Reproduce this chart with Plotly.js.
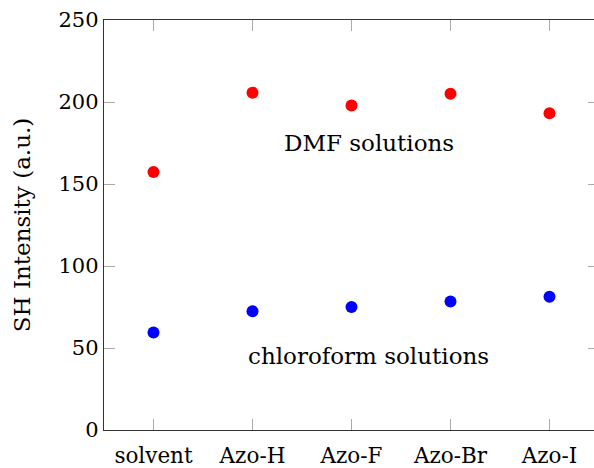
<!DOCTYPE html>
<html><head><meta charset="utf-8">
<script src="https://cdn.plot.ly/plotly-3.0.1.min.js"></script>
<style>html,body{margin:0;padding:0;background:#fff;overflow:hidden}#c{width:599px;height:468px}</style>
</head><body><div id="c"></div>
<script>
const categories = ["solvent", "Azo-H", "Azo-F", "Azo-Br", "Azo-I"];
const dmfValues = [157.3, 205.7, 197.8, 205.1, 193.1];
const chloroformValues = [59.5, 72.4, 75.0, 78.3, 81.3];
const yTicks = [0, 50, 100, 150, 200, 250];

const fam = "DejaVu Serif, serif";
const tickFont = {family: fam, size: 21, color: "#000"};
const xFont = {family: fam, size: 21.5, color: "#000"};
const titleFont = {family: fam, size: 23, color: "#000"};
const annFont = {family: fam, size: 23, color: "#000"};
const xi = categories.map((_, i) => i);

const traces = [
  {x: xi, y: dmfValues, mode: "markers", type: "scatter", marker: {color: "#ff0000", size: 12}, showlegend: false, hoverinfo: "none"},
  {x: xi, y: chloroformValues, mode: "markers", type: "scatter", marker: {color: "#0000ff", size: 12}, showlegend: false, hoverinfo: "none"}
];

const layout = {
  width: 599, height: 468,
  margin: {l: 104, r: 0, t: 20, b: 38},
  paper_bgcolor: "#fff", plot_bgcolor: "#fff",
  font: tickFont,
  xaxis: {
    range: [-0.5, 4.5], tickvals: xi, ticktext: categories,
    ticks: "inside", ticklen: 11, tickcolor: "#aaa", tickwidth: 1,
    mirror: "allticks", showline: true, linecolor: "#333", linewidth: 1.2,
    showgrid: false, zeroline: false, tickfont: xFont, ticklabelstandoff: 6
  },
  yaxis: {
    range: [0, 250], tickvals: yTicks,
    ticks: "inside", ticklen: 11, tickcolor: "#aaa", tickwidth: 1,
    mirror: "allticks", showline: true, linecolor: "#333", linewidth: 1.2,
    showgrid: false, zeroline: false, tickfont: tickFont,
    title: {text: "SH Intensity (a.u.)", font: titleFont, standoff: 21}
  },
  annotations: [
    {x: 2.18, y: 175, xref: "x", yref: "y", text: "DMF solutions", showarrow: false, font: annFont},
    {x: 2.17, y: 45, xref: "x", yref: "y", text: "chloroform solutions", showarrow: false, font: annFont}
  ]
};
Plotly.newPlot("c", traces, layout, {displayModeBar: false, staticPlot: true});
</script></body></html>
